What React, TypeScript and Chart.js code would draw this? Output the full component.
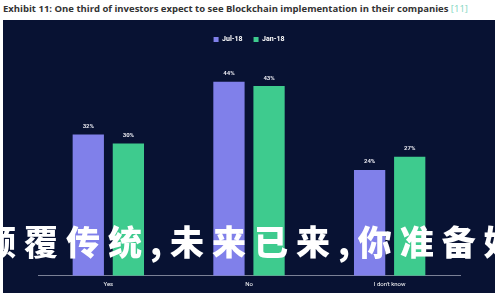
import React, { useEffect, useRef } from "react";
import { Chart, registerables } from "chart.js";
Chart.register(...registerables);

const categories = ["Yes", "No", "I don't know"];
const seriesNames = ["Jul-18", "Jan-18"];
const jul18 = [32, 44, 24];
const jan18 = [30, 43, 27];
const overlayText = "颠覆传统,未来已来,你准备好";

const labelPlugin = {
  id: "valueLabels",
  afterDatasetsDraw(chart: any) {
    const ctx = chart.ctx;
    ctx.save();
    ctx.fillStyle = "#e8e8f0";
    ctx.font = "bold 6px Roboto, Arial, sans-serif";
    ctx.textAlign = "center";
    ctx.textBaseline = "middle";
    chart.data.datasets.forEach((ds: any, i: number) => {
      const meta = chart.getDatasetMeta(i);
      meta.data.forEach((bar: any, j: number) => {
        ctx.fillText(ds.data[j] + "%", bar.x, bar.y - 8);
      });
    });
    ctx.restore();
  },
};

export default function App() {
  const ref = useRef<HTMLCanvasElement>(null);
  useEffect(() => {
    document.body.style.margin = "0";
    const chart = new Chart(ref.current!, {
      type: "bar",
      data: {
        labels: categories,
        datasets: [
          { label: seriesNames[0], data: jul18, backgroundColor: "#8080ea", categoryPercentage: 0.57, barPercentage: 0.78 },
          { label: seriesNames[1], data: jan18, backgroundColor: "#3ecb8e", categoryPercentage: 0.57, barPercentage: 0.78 },
        ],
      },
      options: {
        animation: false,
        responsive: false,
        maintainAspectRatio: false,
        layout: { padding: { left: 35, right: 35, top: 5, bottom: 0 } },
        plugins: {
          legend: {
            position: "top",
            labels: {
              color: "#ffffff",
              font: { size: 7, weight: "bold", family: "Roboto, Arial, sans-serif" },
              boxWidth: 5,
              boxHeight: 5,
              padding: 11,
            },
          },
          tooltip: { enabled: false },
        },
        scales: {
          x: {
            grid: { display: false, drawTicks: false },
            border: { display: true, color: "#7a8096" },
            ticks: { color: "#ffffff", font: { size: 6, family: "Roboto, Arial, sans-serif" }, padding: 5 },
          },
          y: { display: false, min: 0, max: 50.5 },
        },
      },
      plugins: [labelPlugin],
    });
    return () => chart.destroy();
  }, []);

  return (
    <div style={{ position: "fixed", left: 0, top: 0, width: 500, height: 300, background: "#ffffff", overflow: "hidden" }}>
      <div style={{ position: "absolute", left: 3, top: 2, fontFamily: "'Open Sans', Arial, sans-serif", fontWeight: "bold", fontSize: 9.5, lineHeight: "14px", color: "#333", whiteSpace: "nowrap" }}>
        Exhibit 11: One third of investors expect to see Blockchain implementation in their companies <span style={{ color: "#7fd6c0", fontWeight: "normal" }}>[11]</span>
      </div>
      <div style={{ position: "absolute", left: 3, top: 20, width: 492, height: 273, background: "#081233" }}>
        <canvas ref={ref} width={492} height={273} style={{ display: "block" }} />
      </div>
      <div style={{ position: "absolute", left: -18, top: 221, fontFamily: "'Noto Sans CJK SC', sans-serif", fontWeight: 900, fontSize: 34, color: "#ffffff", whiteSpace: "nowrap", letterSpacing: 8, lineHeight: "40px" }}>
        {overlayText}
      </div>
    </div>
  );
}
